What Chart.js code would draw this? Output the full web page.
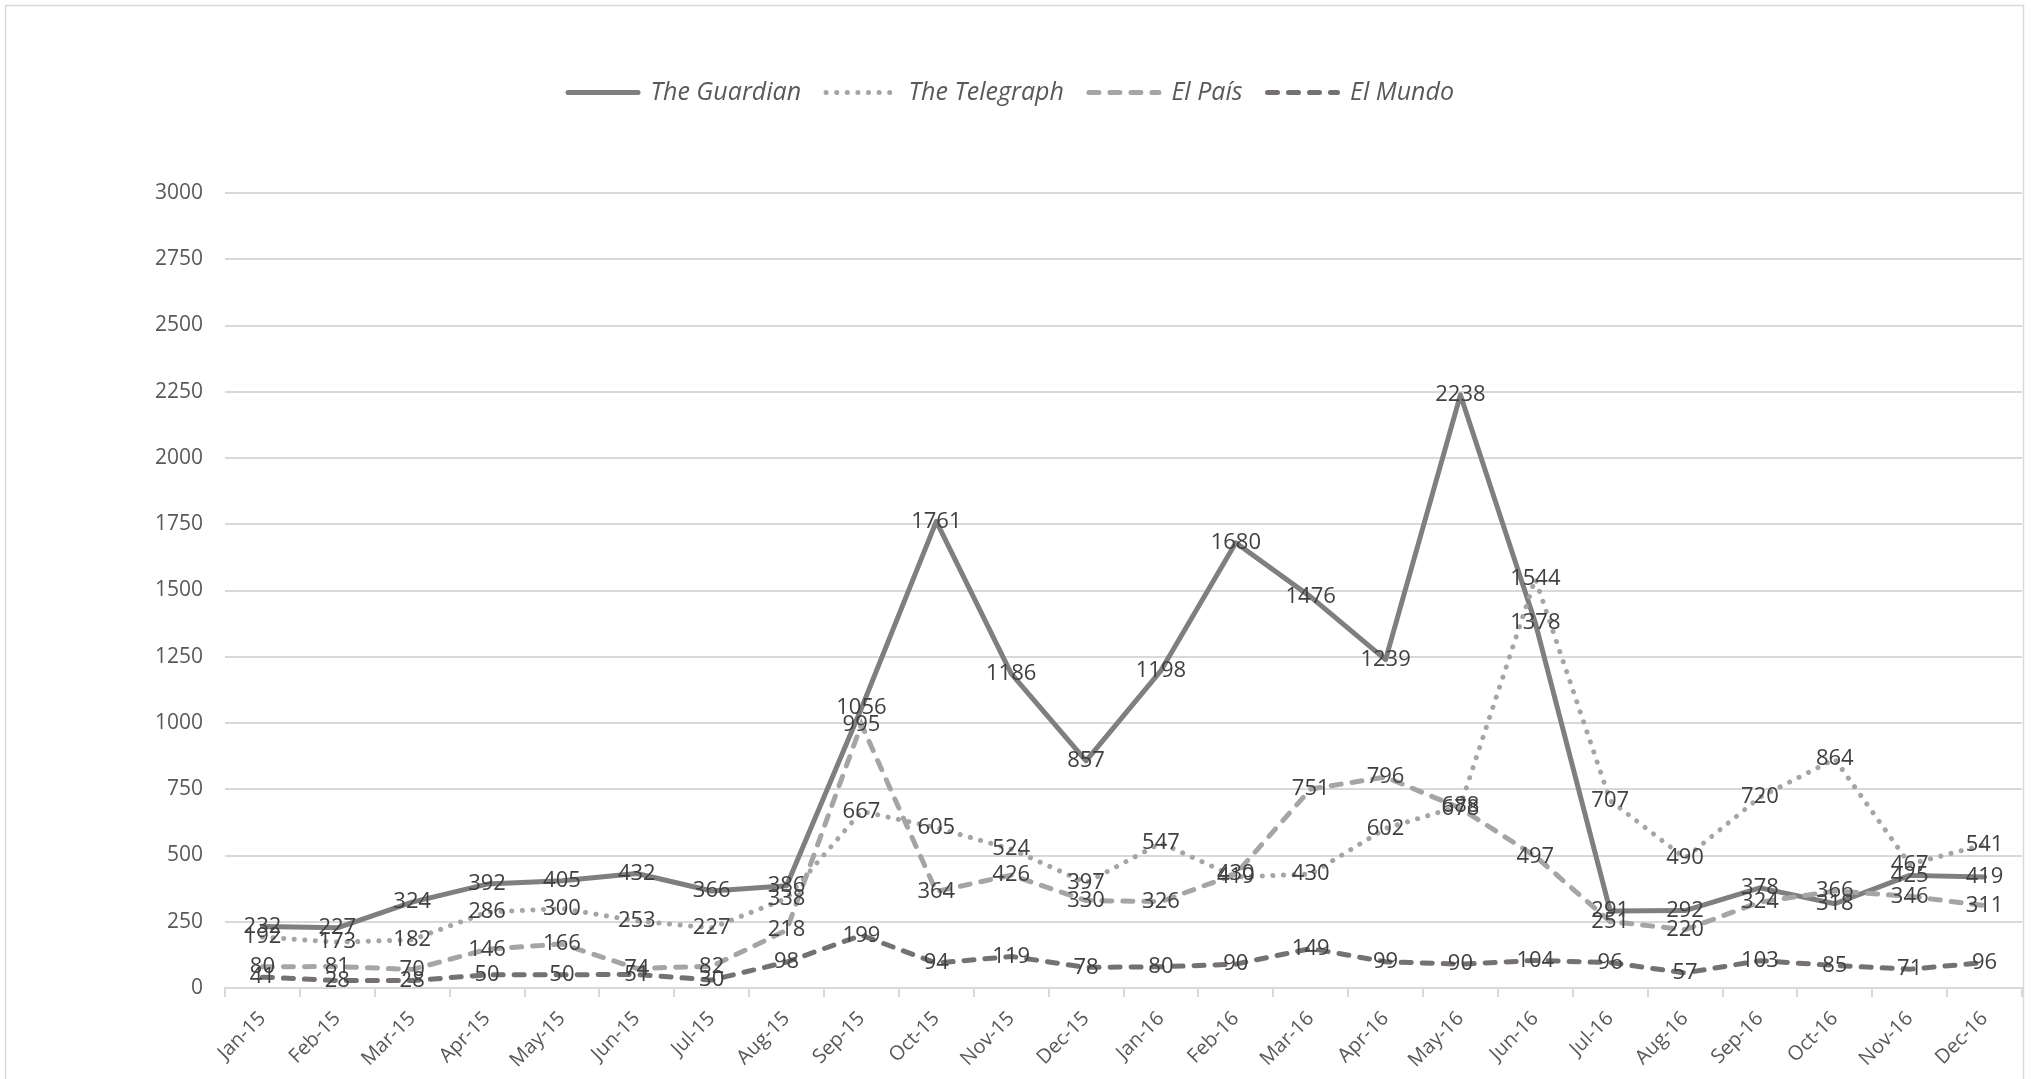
<!DOCTYPE html>
<html lang="en">
<head>
<meta charset="UTF-8">
<title>The Guardian / The Telegraph / El País / El Mundo</title>
<script src="https://cdn.jsdelivr.net/npm/chart.js"></script>
<style>
  html, body { margin: 0; padding: 0; background: #fff; }
  #wrap { width: 2031px; height: 1079px; position: relative; }
</style>
</head>
<body>
<div id="wrap"><canvas id="myChart"></canvas></div>
<script>
// categories (month-year)
const months = ['Jan-15', 'Feb-15', 'Mar-15', 'Apr-15', 'May-15', 'Jun-15', 'Jul-15', 'Aug-15',
                'Sep-15', 'Oct-15', 'Nov-15', 'Dec-15', 'Jan-16', 'Feb-16', 'Mar-16', 'Apr-16',
                'May-16', 'Jun-16', 'Jul-16', 'Aug-16', 'Sep-16', 'Oct-16', 'Nov-16', 'Dec-16'];

// series
const guardian  = [232, 227, 324, 392, 405, 432, 366, 386, 1056, 1761, 1186, 857, 1198, 1680, 1476, 1239, 2238, 1378, 291, 292, 378, 318, 425, 419];
const telegraph = [192, 173, 182, 286, 300, 253, 227, 338, 667, 605, 524, 397, 547, 419, 430, 602, 688, 1544, 707, 490, 720, 864, 467, 541];
const elPais    = [80, 81, 70, 146, 166, 74, 82, 218, 995, 364, 426, 330, 326, 430, 751, 796, 678, 497, 251, 220, 324, 366, 346, 311];
const elMundo   = [41, 28, 28, 50, 50, 51, 30, 98, 199, 94, 119, 78, 80, 90, 149, 99, 90, 104, 96, 57, 103, 85, 71, 96];

// y axis
const yMin = 0, yMax = 3000, yStep = 250;

const FONT = "'Open Sans', sans-serif";
const PAD_TOP = 55;     // space above legend
const CHART_TOP = 193;  // where plot area starts

// white background + thin chart border like the excel chart area
const chartFrame = {
    id: 'chartFrame',
    beforeDraw(chart) {
        const c = chart.ctx;
        c.save();
        c.fillStyle = '#fff';
        c.fillRect(0, 0, chart.width, chart.height);
        c.strokeStyle = '#d9d9d9';
        c.lineWidth = 1.5;
        c.strokeRect(5.5, 5.5, 2018, 1100);
        c.restore();
    }
};

// push plot area down below the legend
const legendGap = {
    id: 'legendGap',
    beforeInit(chart) {
        const fit = chart.legend.fit;
        chart.legend.fit = function () {
            fit.bind(chart.legend)();
            this.height = CHART_TOP - PAD_TOP;
        };
    }
};

// value labels centred on every point
const pointLabels = {
    id: 'pointLabels',
    afterDatasetsDraw(chart) {
        const c = chart.ctx;
        c.save();
        c.font = '22px ' + FONT;
        c.fillStyle = '#404040';
        c.textAlign = 'center';
        c.textBaseline = 'middle';
        chart.data.datasets.forEach((ds, i) => {
            chart.getDatasetMeta(i).data.forEach((pt, j) => {
                c.fillText(ds.data[j], pt.x, pt.y);
            });
        });
        c.restore();
    }
};

// legend samples: use the line's own dash / cap instead of the point style
function legendItems(chart) {
    const items = Chart.defaults.plugins.legend.labels.generateLabels(chart);
    items.forEach(it => {
        const ds = chart.data.datasets[it.datasetIndex];
        it.lineDash = ds.borderDash || [];
        it.lineCap = ds.borderCapStyle || 'butt';
        it.strokeStyle = ds.borderColor;
        it.lineWidth = ds.borderWidth;
    });
    return items;
}

const ctx = document.querySelector('#myChart');

const newsChart = new Chart(ctx, {
    type: 'line',
    data: {
        labels: months,
        datasets: [
            {
                label: 'The Guardian',
                data: guardian,
                borderColor: '#7f7f7f',
                backgroundColor: '#7f7f7f',
                borderWidth: 5,
                borderCapStyle: 'round',
                borderJoinStyle: 'round',
                order: 4
            },
            {
                label: 'The Telegraph',
                data: telegraph,
                borderColor: '#a5a5a5',
                backgroundColor: '#a5a5a5',
                borderWidth: 5,
                borderDash: [0.1, 10.5],
                borderCapStyle: 'round',
                order: 3
            },
            {
                label: 'El País',
                data: elPais,
                borderColor: '#a5a5a5',
                backgroundColor: '#a5a5a5',
                borderWidth: 5,
                borderDash: [10, 11],
                borderCapStyle: 'round',
                order: 2
            },
            {
                label: 'El Mundo',
                data: elMundo,
                borderColor: '#767171',
                backgroundColor: '#767171',
                borderWidth: 5,
                borderDash: [10, 11],
                borderCapStyle: 'round',
                order: 1
            }
        ]
    },
    options: {
        responsive: true,
        maintainAspectRatio: false,
        animation: false,
        devicePixelRatio: 1,
        elements: {
            point: { radius: 0, hoverRadius: 0 },
            line: { tension: 0 }
        },
        layout: {
            padding: { top: PAD_TOP, right: 9, bottom: 0, left: 0 }
        },
        plugins: {
            tooltip: { enabled: false },
            legend: {
                position: 'top',
                labels: {
                    usePointStyle: true,
                    pointStyle: 'line',
                    pointStyleWidth: 70,
                    padding: 25,
                    color: '#595959',
                    font: { family: FONT, size: 25, style: 'italic' },
                    generateLabels: legendItems,
                    sort: (a, b) => a.datasetIndex - b.datasetIndex
                }
            }
        },
        scales: {
            x: {
                offset: true,
                grid: {
                    offset: true,
                    drawOnChartArea: false,
                    drawTicks: true,
                    tickLength: 9,
                    color: '#d9d9d9',
                    lineWidth: 2
                },
                border: { display: true, color: '#d9d9d9', width: 2 },
                ticks: {
                    autoSkip: false,
                    maxRotation: 45,
                    minRotation: 45,
                    padding: 10,
                    color: '#595959',
                    font: { family: FONT, size: 20 }
                },
                afterFit: s => { s.height = 91; }
            },
            y: {
                min: yMin,
                max: yMax,
                ticks: {
                    stepSize: yStep,
                    padding: 22,
                    color: '#595959',
                    font: { family: FONT, size: 21 },
                    callback: v => String(v)
                },
                grid: { color: '#d9d9d9', lineWidth: 2, drawTicks: false },
                border: { display: false },
                afterFit: s => { s.width = 225; }
            }
        }
    },
    plugins: [chartFrame, legendGap, pointLabels]
});
</script>
</body>
</html>
